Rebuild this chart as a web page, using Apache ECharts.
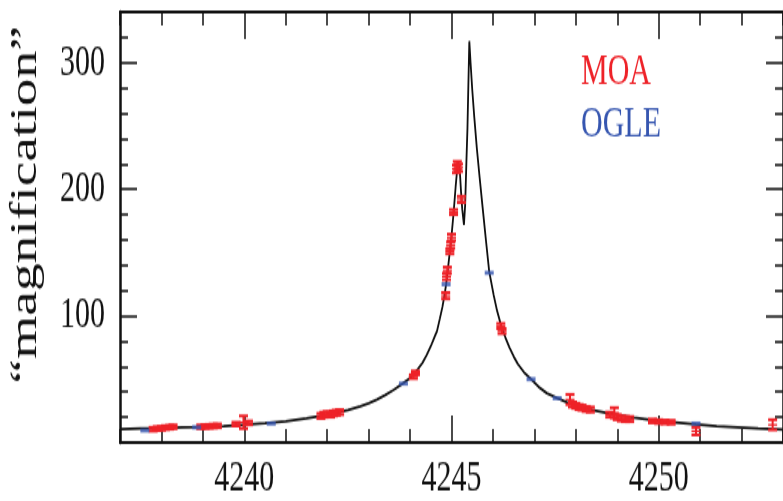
<!DOCTYPE html>
<html>
<head>
<meta charset="utf-8">
<script src="https://cdn.jsdelivr.net/npm/echarts@6/dist/echarts.min.js"></script>
<style>
html,body{margin:0;padding:0;background:#fff;overflow:hidden;width:783px;height:501px;}
#wrap{width:783px;height:334px;transform:scaleY(1.5);transform-origin:0 0;}
</style>
</head>
<body>
<div id="wrap"></div>
<script>
// ---- data ----
const xTickLabels = [4240, 4245, 4250];
const yTickLabels = [100, 200, 300];

const modelDates = [4237.0,4237.5,4238.0,4238.5,4239.0,4239.5,4240.0,4240.5,4241.0,4241.5,4242.0,4242.5,4242.8,4243.0,4243.2,4243.4,4243.6,4243.8,4244.0,4244.1,4244.2,4244.3,4244.4,4244.5,4244.6,4244.65,4244.72,4244.78,4244.83,4244.87,4244.91,4244.95,4245.0,4245.05,4245.1,4245.13,4245.17,4245.2,4245.23,4245.26,4245.3,4245.33,4245.36,4245.385,4245.41,4245.43,4245.46,4245.5,4245.55,4245.61,4245.68,4245.75,4245.83,4245.91,4246.02,4246.1,4246.2,4246.3,4246.4,4246.5,4246.6,4246.75,4246.92,4247.1,4247.3,4247.55,4247.8,4248.0,4248.4,4248.9,4249.4,4250.0,4250.5,4250.9,4251.4,4251.9,4252.4,4253.0];
const modelMag = [10.6,11.0,11.4,11.9,12.4,13.0,14.0,15.2,16.8,19.0,21.8,25.5,28.5,31.0,34.0,37.5,41.5,46.0,51.0,54.5,58.5,63.0,69.0,76.0,84.0,88.0,98.0,107,116,125,136,148,163,181,202,213,221,215,198,184,172,188,222,248,287,317,300,279,257,233,209,186,160,135,116,104,92,83,75,68,62,55.5,50,44,39,35,31.5,29,25.5,22.3,19.6,17.0,15.5,14.3,13.0,12.0,11.0,10.2];

const moaDates = [4237.80,4237.90,4238.00,4238.10,4238.20,4238.28,4238.95,4239.05,4239.15,4239.25,4239.35,4239.80,4239.98,4240.10,4241.85,4241.92,4242.00,4242.08,4242.15,4242.22,4242.30,4244.08,4244.13,4244.86,4244.88,4244.90,4244.96,4244.98,4245.00,4245.05,4245.12,4245.14,4245.17,4245.24,4246.19,4246.22,4247.86,4247.92,4248.00,4248.08,4248.15,4248.25,4248.35,4248.82,4248.93,4249.00,4249.10,4249.20,4249.30,4249.85,4250.00,4250.15,4250.30,4250.90,4252.75];
const moaMag = [10.5,11,11.2,11.8,12,12.4,12.4,12.6,12.8,13,13.2,14.5,16,15.5,21,22,22.5,22,23,23.5,24,52,55,116,131,136,151,156,162,182,216,219,217,192,92,88,34,30,29,28,27.5,26.5,26,22,23.5,20,19,18.5,18.5,17,16.5,16.2,16,9,14];
const moaErr = [1.5,1.5,1.5,1.5,1.5,1.5,1.5,1.5,1.5,1.5,1.5,1.5,5,1.5,2,2,2,2,2,2,2,1.5,1.5,2.5,2.5,2.5,2,2.5,2.5,2,3,3,3,2.5,2,2,4,2,2,2,2,2,2,2,4,2,2,2,2,1.5,1.5,1.5,1.5,3,4];

const ogleDates = [4237.60,4238.85,4240.65,4243.84,4244.87,4245.91,4246.92,4247.55,4250.90];
const ogleMag = [9.5,12,15,46.5,125,134,50,35,15];

// ---- chart ----
const RED = '#ee2228';
const BLUE = '#3656b0';
const INK = '#111111';
const FONT = "'Liberation Serif', 'DejaVu Serif', serif";

const model = modelDates.map((d, i) => [d, modelMag[i]]);
const moa = moaDates.map((d, i) => [d, moaMag[i], moaErr[i]]);
const ogle = ogleDates.map((d, i) => [d, ogleMag[i]]);

function plain(v) { return String(v); }

function baseX(pos, show) {
  return {
    type: 'value', position: pos, min: 4237, max: 4253, interval: 1,
    axisLine: { show: show, onZero: false, lineStyle: { color: INK, width: 2 } },
    axisTick: { show: true, inside: true, length: 9, lineStyle: { color: INK, width: 1.5 } },
    axisLabel: { show: false },
    splitLine: { show: false }
  };
}
function majorX(pos, labels) {
  return {
    type: 'value', position: pos, min: 4237, max: 4253, interval: 1,
    axisLine: { show: false, onZero: false },
    axisTick: { show: true, inside: true, length: 18, customValues: xTickLabels, lineStyle: { color: INK, width: 1.5 } },
    axisLabel: labels ? { show: true, customValues: xTickLabels, formatter: plain, fontSize: 30, fontFamily: FONT, color: INK, margin: 9 } : { show: false },
    splitLine: { show: false }
  };
}
function baseY(pos) {
  return {
    type: 'value', position: pos, min: 0, max: 340, interval: 20,
    axisLine: { show: true, onZero: false, lineStyle: { color: INK, width: 2.5 } },
    axisTick: { show: true, inside: true, length: 8, lineStyle: { color: INK, width: 1.5 } },
    axisLabel: { show: false },
    splitLine: { show: false }
  };
}
function majorY(pos, labels) {
  const o = {
    type: 'value', position: pos, min: 0, max: 340, interval: 20,
    axisLine: { show: false, onZero: false },
    axisTick: { show: true, inside: true, length: 17, customValues: yTickLabels, lineStyle: { color: INK, width: 1.5 } },
    axisLabel: labels ? { show: true, customValues: yTickLabels, formatter: plain, fontSize: 30, fontFamily: FONT, color: INK, margin: 15 } : { show: false },
    splitLine: { show: false }
  };
  if (labels) {
    o.name = '\u201Cmagnification\u201D';
    o.nameLocation = 'middle';
    o.nameGap = 75;
    o.nameTextStyle = { fontSize: 37, fontFamily: FONT, color: INK, padding: [0, 0, 0, 30] };
  }
  return o;
}

function renderMoa(params, api) {
  const x = api.value(0), y = api.value(1), e = api.value(2);
  const c = api.coord([x, y]);
  const t = api.coord([x, y + e]);
  const b = api.coord([x, y - e]);
  const hw = 4.5;
  const st = { stroke: RED, lineWidth: 2 };
  return {
    type: 'group',
    children: [
      { type: 'line', shape: { x1: c[0], y1: t[1], x2: c[0], y2: b[1] }, style: st },
      { type: 'line', shape: { x1: c[0] - hw, y1: t[1], x2: c[0] + hw, y2: t[1] }, style: st },
      { type: 'line', shape: { x1: c[0] - hw, y1: b[1], x2: c[0] + hw, y2: b[1] }, style: st },
      { type: 'line', shape: { x1: c[0] - hw, y1: c[1], x2: c[0] + hw, y2: c[1] }, style: { stroke: RED, lineWidth: 1.2 } }
    ]
  };
}

const chart = echarts.init(document.getElementById('wrap'), null, { renderer: 'canvas' });
chart.setOption({
  animation: false,
  backgroundColor: '#ffffff',
  grid: { left: 117, right: -7, top: 8, bottom: 36, containLabel: false },
  legend: {
    orient: 'vertical', left: 571, top: 28, icon: 'none', itemWidth: 0, itemHeight: 10, itemGap: 5,
    selectedMode: false,
    textStyle: { fontSize: 30, fontFamily: FONT },
    data: [
      { name: 'MOA', textStyle: { color: RED } },
      { name: 'OGLE', textStyle: { color: BLUE } }
    ]
  },
  xAxis: [baseX('bottom', true), majorX('bottom', true), baseX('top', true), majorX('top', false)],
  yAxis: [baseY('left'), majorY('left', true), baseY('right'), majorY('right', false)],
  series: [
    {
      name: 'model', type: 'line', data: model, xAxisIndex: 0, yAxisIndex: 0,
      showSymbol: false, symbol: 'none', lineStyle: { color: INK, width: 1.8 }, z: 2
    },
    {
      name: 'MOA', type: 'custom', data: moa, xAxisIndex: 0, yAxisIndex: 0,
      renderItem: renderMoa, encode: { x: 0, y: 1 }, itemStyle: { color: RED }, z: 3
    },
    {
      name: 'OGLE', type: 'scatter', data: ogle, xAxisIndex: 0, yAxisIndex: 0,
      symbol: 'rect', symbolSize: [9, 2.8], itemStyle: { color: BLUE }, z: 4
    }
  ]
});
</script>
</body>
</html>
